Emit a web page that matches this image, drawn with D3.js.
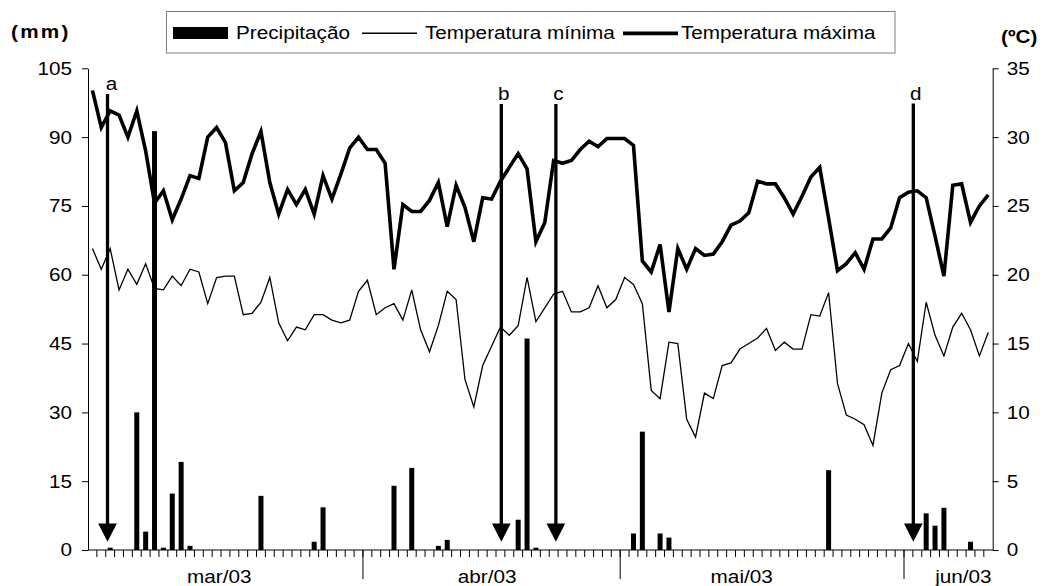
<!DOCTYPE html>
<html>
<head>
<meta charset="utf-8">
<script src="https://cdn.jsdelivr.net/npm/d3@7"></script>
<style>
  body { margin: 0; background: #fff; }
  svg { display: block; font-family: "Liberation Sans", Arial, sans-serif; }
</style>
</head>
<body>
<div id="chart"></div>
<script>
// Daily records, one entry per day on the category axis
const monthLabels = ["mar/03", "abr/03", "mai/03", "jun/03"];
const monthSizes = [31, 29, 32, 10];            // days in each label group
const monthLabelPos = [14.8, 45.0, 73.7, 98.7]; // label centre, in days from axis start
const mmTicks = [0, 15, 30, 45, 60, 75, 90, 105];
const degTicks = [0, 5, 10, 15, 20, 25, 30, 35];

// Precipitação (mm)
const precip = [
  0, 0, 0.5, 0, 0, 30, 4.0, 91.3, 0.5, 12.3,
  19.2, 0.9, 0, 0, 0, 0, 0, 0, 0, 11.8,
  0, 0, 0, 0, 0, 1.8, 9.3, 0, 0, 0,
  0, 0, 0, 0, 14.0, 0, 17.9, 0, 0, 0.9,
  2.2, 0, 0, 0, 0, 0, 0, 0, 6.6, 46.1,
  0.5, 0, 0, 0, 0, 0, 0, 0, 0, 0,
  0, 3.6, 25.8, 0, 3.6, 2.7, 0, 0, 0, 0,
  0, 0, 0, 0, 0, 0, 0, 0, 0, 0,
  0, 0, 0, 17.4, 0, 0, 0, 0, 0, 0,
  0, 0, 0, 0, 8.0, 5.3, 9.2, 0, 0, 1.8,
  0, 0
];

// Temperatura mínima (ºC)
const tmin = [
  21.9, 20.4, 21.9, 18.9, 20.4, 19.3, 20.8, 19.0, 18.9, 19.9,
  19.2, 20.4, 20.2, 17.9, 19.8, 19.9, 19.9, 17.1, 17.2, 18.0,
  19.8, 16.5, 15.2, 16.2, 16.0, 17.1, 17.1, 16.7, 16.5, 16.7,
  18.8, 19.6, 17.1, 17.6, 17.9, 16.7, 18.9, 16.0, 14.4, 16.3,
  18.8, 18.2, 12.4, 10.4, 13.4, 14.8, 16.2, 15.6, 16.3, 19.8,
  16.6, 17.6, 18.6, 18.8, 17.3, 17.3, 17.6, 19.2, 17.6, 18.2,
  19.8, 19.3, 17.9, 11.6, 11.0, 15.1, 15.0, 9.5, 8.2, 11.4,
  11.0, 13.4, 13.6, 14.6, 15.0, 15.4, 16.1, 14.5, 15.1, 14.6,
  14.6, 17.1, 17.0, 18.7, 12.1, 9.8, 9.5, 9.1, 7.6, 11.4,
  13.1, 13.4, 15.0, 13.7, 18.0, 15.6, 14.1, 16.2, 17.2, 16.0,
  14.1, 15.8
];

// Temperatura máxima (ºC)
const tmax = [
  33.4, 30.7, 31.9, 31.6, 30.0, 31.9, 29.0, 25.2, 26.1, 24.0,
  25.5, 27.2, 27.0, 30.0, 30.7, 29.6, 26.1, 26.7, 28.8, 30.4,
  26.7, 24.4, 26.2, 25.1, 26.2, 24.4, 27.2, 25.5, 27.3, 29.2,
  30.0, 29.1, 29.1, 28.1, 20.4, 25.1, 24.6, 24.6, 25.4, 26.7,
  23.5, 26.5, 24.9, 22.4, 25.6, 25.5, 26.8, 27.8, 28.8, 27.7,
  22.4, 23.8, 28.3, 28.1, 28.3, 29.1, 29.7, 29.3, 29.9, 29.9,
  29.9, 29.4, 21.0, 20.2, 22.2, 17.3, 21.9, 20.4, 21.9, 21.4,
  21.5, 22.4, 23.6, 23.9, 24.5, 26.8, 26.6, 26.6, 25.6, 24.4,
  25.7, 27.1, 27.8, 24.1, 20.3, 20.8, 21.6, 20.4, 22.6, 22.6,
  23.4, 25.6, 26.0, 26.1, 25.6, 22.8, 19.9, 26.5, 26.6, 23.8,
  25.0, 25.8
];

// Marked dates (arrows): position in days from axis start, top in mm
const arrowLabels = ["a", "b", "c", "d"];
const arrowDays = [2.2, 46.6, 52.75, 93.05];
const arrowTops = [99.4, 97.2, 97.2, 97.3];

const width = 1046, height = 586;
const SX = 1.12;     // horizontal stretch of the original lettering
const FS = 18.5;

const svg = d3.select("#chart").append("svg")
  .attr("width", width)
  .attr("height", height);

const nDays = tmax.length;
const plotLeft = 88, plotRight = 992.7, plotTop = 68.3, plotBottom = 550;

const x = d3.scaleBand().domain(d3.range(nDays)).range([plotLeft, plotRight]);
const xd = d3.scaleLinear().domain([0, nDays]).range([plotLeft, plotRight]); // day boundaries
const yP = d3.scaleLinear().domain([0, 105]).range([plotBottom, plotTop]);
const yT = d3.scaleLinear().domain([0, 35]).range([plotBottom, plotTop]);

function label(g, px, py, s, anchor, weight) {
  return g.append("text")
    .attr("transform", `translate(${px},${py}) scale(${SX},1)`)
    .attr("text-anchor", anchor || "start")
    .style("font-size", FS + "px")
    .style("font-weight", weight || "normal")
    .style("fill", "#000")
    .text(s);
}

// Precipitation bars
const barW = 5;
svg.append("g").selectAll("rect")
  .data(precip.map((v, i) => ({ v, i })).filter((d) => d.v > 0))
  .join("rect")
  .attr("x", (d) => x(d.i) + x.bandwidth() / 2 - barW / 2)
  .attr("y", (d) => yP(d.v))
  .attr("width", barW)
  .attr("height", (d) => yP(0) - yP(d.v))
  .attr("fill", "#000");

// Temperature lines
const line = d3.line()
  .x((d, i) => x(i) + x.bandwidth() / 2)
  .y((d) => yT(d));

svg.append("path")
  .attr("d", line(tmin))
  .attr("fill", "none")
  .attr("stroke", "#000")
  .attr("stroke-width", 1.3);

svg.append("path")
  .attr("d", line(tmax))
  .attr("fill", "none")
  .attr("stroke", "#000")
  .attr("stroke-width", 3.6)
  .attr("stroke-linejoin", "miter");

// Axes
function styleAxis(g) {
  g.attr("font-family", null).attr("font-size", null);
  g.select(".domain").attr("stroke", "#000");
  g.selectAll(".tick line").attr("stroke", "#000");
  g.selectAll(".tick text").each(function () {
    const t = d3.select(this);
    const tx = +t.attr("x");
    t.attr("x", 0)
      .attr("transform", `translate(${tx},0) scale(${SX},1)`)
      .style("font-size", FS + "px")
      .style("fill", "#000");
  });
}

svg.append("g")
  .attr("transform", `translate(${plotLeft},0)`)
  .call(d3.axisLeft(yP).tickValues(mmTicks).tickSize(6).tickSizeOuter(0).tickPadding(10))
  .call(styleAxis);

svg.append("g")
  .attr("transform", `translate(${plotRight},0)`)
  .call(d3.axisRight(yT).tickValues(degTicks).tickSize(6).tickSizeOuter(0).tickPadding(8))
  .call(styleAxis);

// Category axis: baseline, day ticks, month separators
const xg = svg.append("g");
xg.append("line")
  .attr("x1", plotLeft).attr("x2", plotRight)
  .attr("y1", plotBottom).attr("y2", plotBottom)
  .attr("stroke", "#000");

xg.selectAll("line.day")
  .data(d3.range(1, nDays))
  .join("line")
  .attr("class", "day")
  .attr("x1", (d) => xd(d)).attr("x2", (d) => xd(d))
  .attr("y1", plotBottom).attr("y2", plotBottom + 7)
  .attr("stroke", "#000");

const bounds = d3.cumsum(monthSizes).slice(0, -1);
xg.selectAll("line.month")
  .data(bounds)
  .join("line")
  .attr("class", "month")
  .attr("x1", (d) => xd(d)).attr("x2", (d) => xd(d))
  .attr("y1", plotBottom).attr("y2", plotBottom + 29)
  .attr("stroke", "#000");

monthLabels.forEach((m, i) => {
  label(xg, xd(monthLabelPos[i]), 583, m, "middle");
});

// Arrows marking dates
const ag = svg.append("g");
arrowLabels.forEach((a, i) => {
  const ax = xd(arrowDays[i]);
  const yTop = yP(arrowTops[i]);
  const yTip = yP(1.8);
  const headH = 18.3, headW = 18.7;
  ag.append("line")
    .attr("x1", ax).attr("x2", ax)
    .attr("y1", yTop).attr("y2", yTip - headH + 1)
    .attr("stroke", "#000")
    .attr("stroke-width", 3.3);
  ag.append("path")
    .attr("d", `M${ax - headW / 2},${yTip - headH}L${ax + headW / 2},${yTip - headH}L${ax},${yTip}Z`)
    .attr("fill", "#000");
  label(ag, ax + (i === 0 ? 4 : 2.5), yTop - 4, a, "middle");
});

// Axis titles
label(svg, 11, 38, "(mm)", "start", "bold").style("letter-spacing", "2px");
label(svg, 1001, 43, "(ºC)", "start", "bold");

// Legend
const lg = svg.append("g");
lg.append("rect")
  .attr("x", 166.5).attr("y", 11.5)
  .attr("width", 728.5).attr("height", 41.5)
  .attr("fill", "#fff")
  .attr("stroke", "#7f7f7f")
  .attr("stroke-width", 1);

lg.append("rect")
  .attr("x", 173).attr("y", 27)
  .attr("width", 55).attr("height", 12)
  .attr("fill", "#000");
label(lg, 236, 39, "Precipitação");

lg.append("line")
  .attr("x1", 362).attr("x2", 417)
  .attr("y1", 33.3).attr("y2", 33.3)
  .attr("stroke", "#000").attr("stroke-width", 1.5);
label(lg, 425, 39, "Temperatura mínima");

lg.append("line")
  .attr("x1", 623).attr("x2", 678)
  .attr("y1", 33.3).attr("y2", 33.3)
  .attr("stroke", "#000").attr("stroke-width", 3.8);
label(lg, 681, 39, "Temperatura máxima");
</script>
</body>
</html>
